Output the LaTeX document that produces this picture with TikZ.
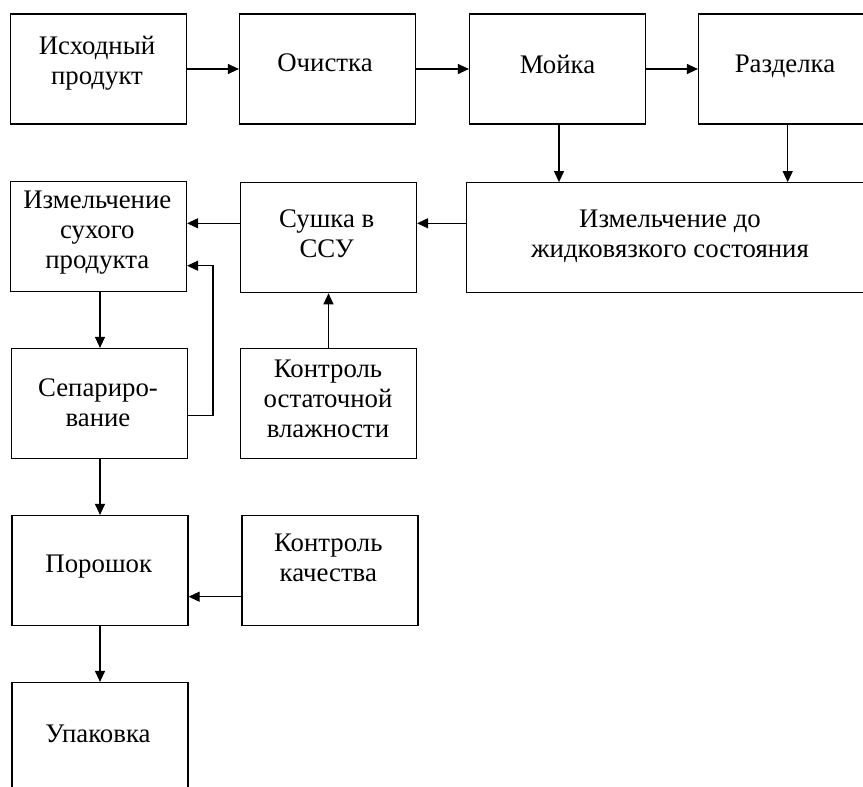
\documentclass[tikz,border=0pt]{standalone}
\usepackage{fontspec}
\setmainfont{Liberation Serif}
\usetikzlibrary{arrows.meta,calc}
\begin{document}
\begin{tikzpicture}[x=1pt,y=-1pt,
  box/.style={draw=black,line width=1.2pt,rectangle,minimum width=176pt,minimum height=110pt,inner sep=0pt},
  txt/.style={align=center,inner sep=0pt,font=\fontsize{26.8}{30}\selectfont},
  arr/.style={line width=1.2pt,-{Triangle[length=11pt,width=10pt]}}]
\clip (0,0) rectangle (863,787);
\fill[white] (0,0) rectangle (863,787);
% boxes
\node[box] (b1) at (98.5,69) {};
\node[box] (b2) at (327.5,69) {};
\node[box] (b3) at (557.5,69) {};
\node[box] (b4) at (786.5,69) {};
\node[box] (b5) at (98.5,236.5) {};
\node[box] (b6) at (328.5,237.7) {};
\node[box,minimum width=407.5pt] (b7) at (670.25,237.7) {};
\node[box] (b8) at (99.5,403.5) {};
\node[box] (b9) at (328.5,403.5) {};
\node[box] (b10) at (100,570.5) {};
\node[box] (b11) at (330,570.5) {};
\node[box] (b12) at (100,737.5) {};
% texts
\node[txt] (t1) at (97,63.5) {Исходный\\продукт};
\node[txt] (t2) at (325,63) {Очистка};
\node[txt] (t3) at (557.5,64) {Мойка};
\node[txt] (t4) at (785,66) {Разделка};
\node[txt] (t5) at (97.3,232.7) {Измельчение\\сухого\\продукта};
\node[txt] (t6) at (326.7,234) {Сушка в\\ССУ};
\node[txt] (t7) at (670,236) {Измельчение до\\жидковязкого состояния};
\node[txt] (t8) at (98,403) {Сепариро-\\вание};
\node[txt] (t9) at (328,399) {Контроль\\остаточной\\влажности};
\node[txt] (t10) at (98.8,567) {Порошок};
\node[txt] (t11) at (328.3,557.5) {Контроль\\качества};
\node[txt] (t12) at (98,734) {Упаковка};
% connectors
\draw[arr] (b1.east) -- (b2.west);
\draw[arr] (b2.east) -- (b3.west);
\draw[arr] (b3.east) -- (b4.west);
\coordinate (c3) at (559,124);
\coordinate (c4) at (787.7,124);
\draw[arr] (c3) -- (c3 |- b7.north);
\draw[arr] (c4) -- (c4 |- b7.north);
\coordinate (y1) at (0,223.3);
\draw[arr] (y1 -| b7.west) -- (y1 -| b6.east);
\draw[arr] (y1 -| b6.west) -- (y1 -| b5.east);
\coordinate (fbA) at (213,415.7);
\coordinate (fbB) at (213,265.7);
\draw[arr] (fbA -| b8.east) -- (fbA) -- (fbB) -- (fbB -| b5.east);
\coordinate (x1) at (100,0);
\draw[arr] (x1 |- b5.south) -- (x1 |- b8.north);
\draw[arr] (b9.north) -- (b6.south);
\draw[arr] (x1 |- b8.south) -- (x1 |- b10.north);
\coordinate (y2) at (0,596.7);
\draw[arr] (y2 -| b11.west) -- (y2 -| b10.east);
\draw[arr] (x1 |- b10.south) -- (x1 |- b12.north);
\end{tikzpicture}
\end{document}
